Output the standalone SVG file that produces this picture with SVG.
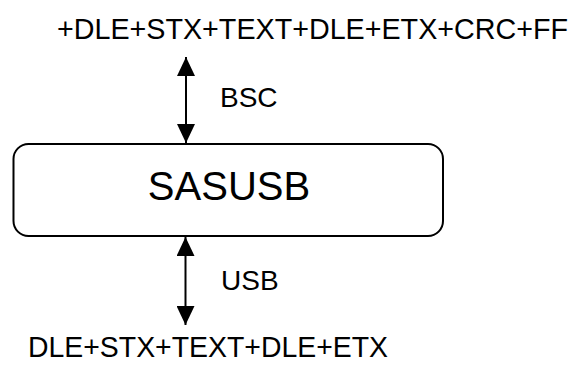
<svg xmlns="http://www.w3.org/2000/svg" width="576" height="365" viewBox="0 0 576 365">
  <defs>
    <marker id="head" viewBox="0 0 19 18" refX="19" refY="9" markerWidth="19" markerHeight="18" markerUnits="userSpaceOnUse" orient="auto-start-reverse">
      <path d="M0,0 L19,9 L0,18 Z" fill="#000"/>
    </marker>
    <style>
      text { font-family: "Liberation Sans", Arial, sans-serif; fill: #000; }
      .frame { font-size: 29px; }
      .link { font-size: 28px; }
      .title { font-size: 40px; }
      .box { fill: #fff; stroke: #000; stroke-width: 2; }
      .wire { stroke: #000; stroke-width: 2; fill: none; marker-start: url(#head); marker-end: url(#head); }
    </style>
  </defs>
  <rect width="576" height="365" fill="#fff"/>

  <g id="bsc-frame">
    <text class="frame" x="57" y="39" textLength="511" lengthAdjust="spacingAndGlyphs">+DLE+STX+TEXT+DLE+ETX+CRC+FF</text>
  </g>

  <g id="sasusb">
    <rect class="box" x="13.5" y="144" width="429.5" height="92" rx="15" ry="15"/>
    <text class="title" x="229" y="200" text-anchor="middle">SASUSB</text>
  </g>

  <g id="usb-frame">
    <text class="frame" x="28" y="357" textLength="360" lengthAdjust="spacingAndGlyphs">DLE+STX+TEXT+DLE+ETX</text>
  </g>

  <g id="connectors">
    <line class="wire" x1="186" y1="57" x2="186" y2="143"/>
    <text class="link" x="220" y="107">BSC</text>
    <line class="wire" x1="185.5" y1="237" x2="185.5" y2="325"/>
    <text class="link" x="221" y="290">USB</text>
  </g>
</svg>
